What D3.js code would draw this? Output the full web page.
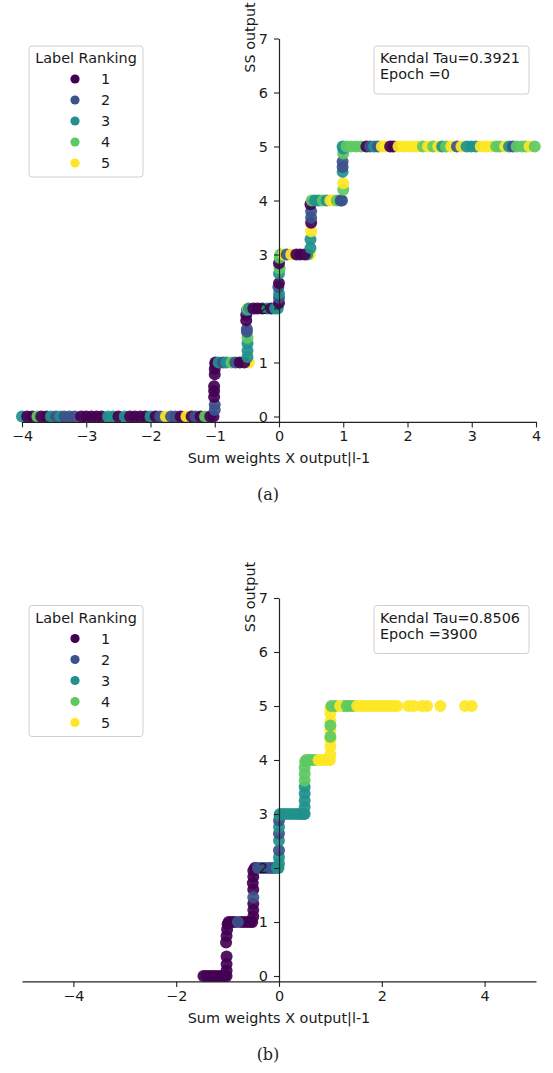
<!DOCTYPE html>
<html>
<head>
<meta charset="utf-8">
<script src="https://cdn.jsdelivr.net/npm/d3@7"></script>
<style>
  body { margin: 0; background: #fff; }
  svg { display: block; font-family: "DejaVu Sans", sans-serif; }
</style>
</head>
<body>
<svg width="553" height="1073"></svg>
<script>
// Ranking labels and viridis colours
const ranks = [1, 2, 3, 4, 5];
const rankColors = ["#440154", "#3b528b", "#21918c", "#5ec962", "#fde725"];

const yTicks = [0, 1, 2, 3, 4, 5, 6, 7];
const xTicksA = [-4, -3, -2, -1, 0, 1, 2, 3, 4];
const xTicksB = [-4, -2, 0, 2, 4];

const infoA = ["Kendal Tau=0.3921", "Epoch =0"];
const infoB = ["Kendal Tau=0.8506", "Epoch =3900"];

// [x, y, rank] — epoch 0
const pointsA = [
  [-4.00,0,3],[-3.92,0,1],[-3.84,0,1],[-3.76,0,4],[-3.70,0,1],[-3.62,0,1],[-3.55,0,3],[-3.47,0,2],
  [-3.40,0,3],[-3.34,0,2],[-3.26,0,2],[-3.18,0,2],[-3.08,0,1],[-3.00,0,1],[-2.92,0,1],[-2.84,0,1],
  [-2.76,0,1],[-2.66,0,3],[-2.58,0,3],[-2.50,0,1],[-2.40,0,3],[-2.32,0,1],[-2.24,0,1],[-2.16,0,1],
  [-2.08,0,1],[-2.00,0,3],[-1.92,0,1],[-1.85,0,2],[-1.76,0,5],[-1.68,0,2],[-1.61,0,2],[-1.53,0,1],
  [-1.44,0,5],[-1.36,0,1],[-1.30,0,2],[-1.22,0,1],[-1.15,0,4],[-1.07,0,1],[-1.02,0,1],
  [-1.00,0.12,2],[-1.00,0.22,2],[-1.01,0.36,1],[-1.01,0.47,1],[-1.01,0.56,1],[-1.00,0.78,1],
  [-1.00,0.88,1],[-0.99,0.97,1],
  [-0.99,1,1],[-0.94,1,3],[-0.87,1,2],[-0.82,1,3],[-0.74,1,4],[-0.68,1,2],[-0.61,1,1],[-0.47,1,5],
  [-0.54,1,1],
  [-0.49,1.10,3],[-0.49,1.22,3],[-0.49,1.35,3],[-0.49,1.46,4],[-0.50,1.57,2],[-0.50,1.62,2],
  [-0.51,1.78,1],[-0.51,1.88,1],[-0.50,1.97,3],
  [-0.48,2,5],[-0.47,2,3],[-0.40,2,1],[-0.33,2,1],[-0.26,2,1],[-0.18,2,3],[-0.12,2,1],[-0.06,2,3],
  [-0.02,2,3],
  [0.00,2.10,1],[0.00,2.20,2],[0.00,2.28,3],[-0.01,2.40,2],[0.00,2.47,1],[0.00,2.65,3],[0.01,2.74,4],
  [0.00,2.84,1],[0.01,2.94,4],
  [0.02,3,4],[0.07,3,5],[0.12,3,2],[0.19,3,5],[0.27,3,1],[0.33,3,1],[0.48,3,5],[0.44,3,3],[0.40,3,1],
  [0.49,3.12,3],[0.49,3.28,3],[0.50,3.43,5],[0.50,3.59,1],[0.50,3.68,2],[0.50,3.80,2],[0.49,3.93,1],
  [0.51,4,4],[0.56,4,3],[0.62,4,3],[0.68,4,4],[0.74,4,3],[0.80,4,5],[0.85,4,5],[0.90,4,4],[0.96,4,2],
  [0.98,4,2],
  [1.00,4.20,4],[1.00,4.32,5],[0.99,4.53,3],[0.99,4.62,2],[0.99,4.72,2],[1.00,4.87,4],[1.00,4.96,3],
  [0.99,5,3],[1.05,5,4],[1.12,5,4],[1.20,5,4],[1.28,5,4],[1.36,5,1],[1.42,5,2],[1.48,5,3],[1.54,5,2],
  [1.60,5,5],[1.66,5,5],[1.73,5,1],[1.78,5,1],[1.86,5,5],[1.94,5,5],[2.02,5,5],[2.10,5,5],[2.16,5,5],
  [2.24,5,4],[2.32,5,5],[2.40,5,4],[2.48,5,5],[2.54,5,3],[2.60,5,4],[2.68,5,5],[2.77,5,2],[2.84,5,5],
  [2.92,5,3],[2.99,5,3],[3.06,5,3],[3.14,5,5],[3.22,5,5],[3.30,5,5],[3.38,5,4],[3.44,5,4],[3.52,5,5],
  [3.58,5,3],[3.64,5,2],[3.70,5,4],[3.78,5,4],[3.84,5,4],[3.90,5,5],[3.98,5,4]
];

// [x, y, rank] — epoch 3900
const pointsB = [
  [-1.47,0,1],[-1.41,0,1],[-1.35,0,1],[-1.29,0,1],[-1.23,0,1],[-1.17,0,1],[-1.11,0,1],[-1.05,0,1],
  [-1.02,0,1],
  [-1.02,0.10,1],[-1.02,0.22,1],[-1.02,0.36,1],[-1.03,0.62,1],[-1.02,0.74,1],[-1.01,0.86,1],
  [-1.00,0.96,1],
  [-0.98,1,1],[-0.92,1,1],[-0.86,1,1],[-0.74,1,1],[-0.68,1,1],[-0.62,1,1],[-0.56,1,1],[-0.52,1,1],
  [-0.80,1,2],
  [-0.50,1.10,1],[-0.50,1.22,1],[-0.50,1.34,1],[-0.50,1.60,1],[-0.51,1.72,1],[-0.50,1.84,1],
  [-0.50,1.95,1],[-0.50,1.46,2],
  [-0.47,2,1],[-0.41,2,2],[-0.35,2,2],[-0.29,2,2],[-0.22,2,2],[-0.16,2,2],[-0.10,2,2],[-0.04,2,3],
  [-0.01,2,3],
  [0.00,2.08,3],[0.00,2.20,3],[0.00,2.33,2],[0.00,2.51,3],[0.00,2.64,2],[0.00,2.76,3],[0.00,2.88,2],
  [0.01,2.98,3],
  [0.02,3,3],[0.08,3,3],[0.14,3,3],[0.21,3,3],[0.28,3,3],[0.35,3,3],[0.41,3,3],[0.47,3,3],[0.50,3,3],
  [0.50,3.13,3],[0.50,3.25,3],[0.50,3.38,3],[0.50,3.50,3],[0.50,3.62,4],[0.50,3.74,4],[0.50,3.86,4],
  [0.51,3.97,4],
  [0.53,4,4],[0.59,4,4],[0.65,4,4],[0.71,4,4],[0.77,4,5],[0.83,4,5],[0.95,4,5],[0.99,4,5],[0.88,4,5],
  [1.00,4.10,5],[1.00,4.25,5],[1.00,4.38,5],[1.00,4.55,5],[1.00,4.72,5],[1.00,4.86,5],[1.00,4.96,5],
  [1.00,4.43,4],[1.00,4.64,4],
  [1.02,5,4],[1.10,5,4],[1.26,5,4],[1.19,5,5],[1.32,5,4],[1.38,5,4],[1.44,5,4],[1.52,5,5],[1.58,5,5],
  [1.64,5,5],[1.70,5,5],[1.76,5,5],[1.82,5,5],[1.88,5,5],[1.94,5,5],[2.00,5,5],[2.06,5,5],[2.12,5,5],
  [2.18,5,5],[2.24,5,5],[2.30,5,5],[2.52,5,5],[2.62,5,5],[2.78,5,5],[2.88,5,5],[3.14,5,5],[3.62,5,5],
  [3.75,5,5]
];

const svg = d3.select("svg");
const color = d3.scaleOrdinal().domain(ranks).range(rankColors);
const fmt = d3.format("");
const FS = 14.4;

function drawPanel(top, xDomain, xTicks, points, info, caption) {
  const g = svg.append("g").attr("transform", `translate(0,${top})`);

  const x = d3.scaleLinear().domain(xDomain).range([22, 536]);
  const y = d3.scaleLinear().domain([-0.1, 7]).range([421.9, 38.5]);

  // Puntos
  g.append("g")
    .selectAll("circle")
    .data(points)
    .enter()
    .append("circle")
    .attr("cx", (d) => x(d[0]))
    .attr("cy", (d) => y(d[1]))
    .attr("r", 6)
    .attr("fill", (d) => color(d[2]))
    .attr("fill-opacity", 0.92);

  // Eje x abajo
  const xAxis = g.append("g")
    .attr("transform", `translate(0,${y(-0.1)})`)
    .call(d3.axisBottom(x).tickValues(xTicks).tickFormat(fmt).tickSize(5.5).tickPadding(3.5).tickSizeOuter(0));

  // Eje y en x = 0
  const yAxis = g.append("g")
    .attr("transform", `translate(${x(0)},0)`)
    .call(d3.axisLeft(y).tickValues(yTicks).tickFormat(fmt).tickSize(5).tickPadding(6).tickSizeOuter(0));

  [xAxis, yAxis].forEach((a) => {
    a.select(".domain").attr("stroke", "#222").attr("stroke-width", 1.2);
    a.selectAll(".tick line").attr("stroke", "#222").attr("stroke-width", 1.1);
    a.selectAll(".tick text")
      .attr("fill", "#1a1a1a")
      .style("font-family", "DejaVu Sans")
      .style("font-size", FS + "px");
  });

  g.append("text")
    .attr("x", 279)
    .attr("y", 463)
    .attr("text-anchor", "middle")
    .attr("font-size", FS)
    .attr("fill", "#1a1a1a")
    .text("Sum weights X output|l-1");

  g.append("text")
    .attr("transform", "translate(254.5,37.5) rotate(-90)")
    .attr("text-anchor", "middle")
    .attr("font-size", FS)
    .attr("fill", "#1a1a1a")
    .text("SS output");

  // Leyenda
  const leg = g.append("g");
  leg.append("rect")
    .attr("x", 29).attr("y", 46).attr("width", 114).attr("height", 131)
    .attr("rx", 3).attr("fill", "#fff").attr("stroke", "#d0d0d0");
  leg.append("text")
    .attr("x", 86).attr("y", 63)
    .attr("text-anchor", "middle")
    .attr("font-size", FS)
    .attr("fill", "#1a1a1a")
    .text("Label Ranking");
  const items = leg.selectAll("g.item")
    .data(ranks)
    .enter()
    .append("g")
    .attr("class", "item")
    .attr("transform", (d, i) => `translate(0,${79 + i * 21})`);
  items.append("circle").attr("cx", 75).attr("r", 4.6).attr("fill", (d) => color(d));
  items.append("text")
    .attr("x", 101).attr("y", 5)
    .attr("font-size", FS)
    .attr("fill", "#1a1a1a")
    .text((d) => d);

  // Caja de texto
  g.append("rect")
    .attr("x", 374).attr("y", 46).attr("width", 155).attr("height", 48)
    .attr("rx", 3).attr("fill", "#fff").attr("stroke", "#d0d0d0");
  g.selectAll("text.info")
    .data(info)
    .enter()
    .append("text")
    .attr("class", "info")
    .attr("x", 380)
    .attr("y", (d, i) => 63 + i * 16)
    .attr("font-size", FS)
    .attr("fill", "#1a1a1a")
    .text((d) => d);

  g.append("text")
    .attr("x", 268)
    .attr("y", 500)
    .attr("text-anchor", "middle")
    .style("font-family", "DejaVu Serif, serif")
    .attr("font-size", 16)
    .attr("fill", "#222")
    .text(caption);
}

drawPanel(0, [-4, 4], xTicksA, pointsA, infoA, "(a)");
drawPanel(559.5, [-5, 5], xTicksB, pointsB, infoB, "(b)");
</script>
</body>
</html>
